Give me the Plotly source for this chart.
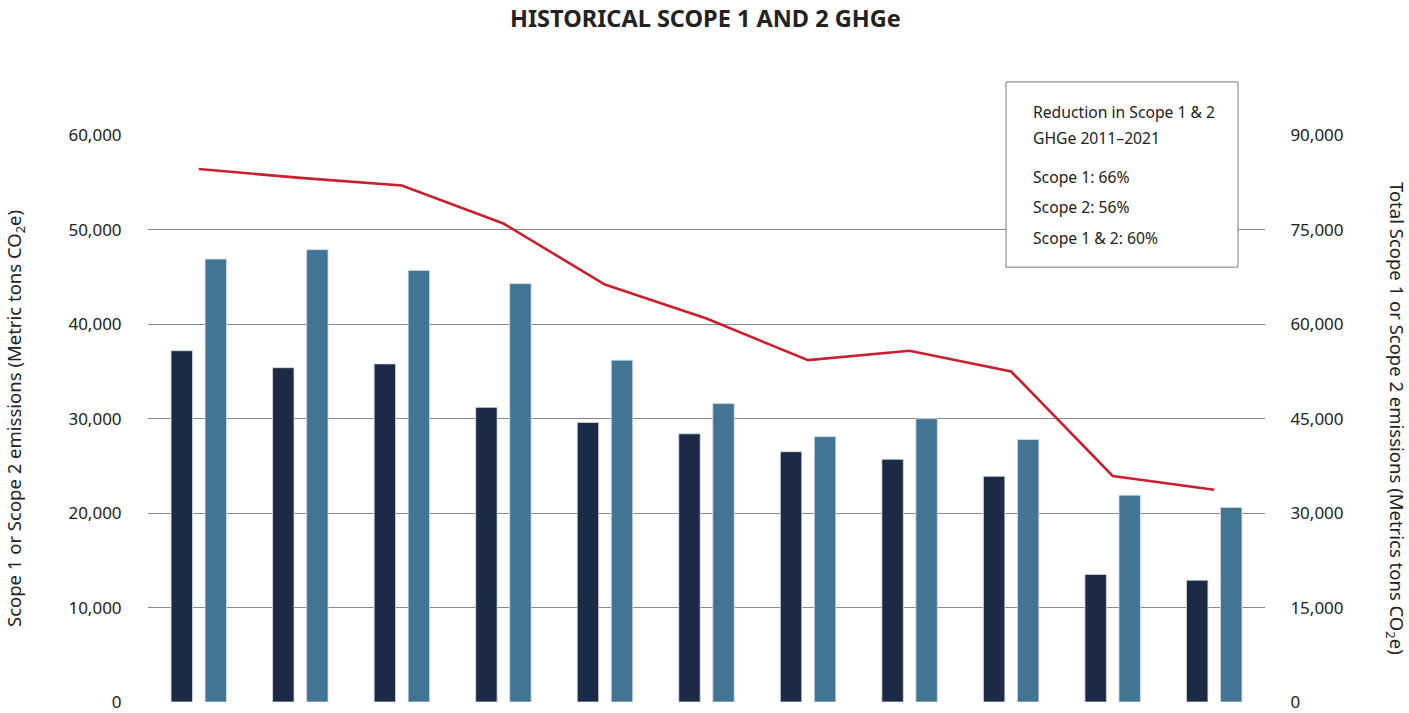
import plotly.graph_objects as go

years = ["2011", "2012", "2013", "2014", "2015", "2016", "2017", "2018", "2019", "2020", "2021"]
scope1 = [37200, 35400, 35800, 31200, 29600, 28400, 26500, 25700, 23900, 13500, 12900]
scope2 = [46900, 47900, 45700, 44300, 36200, 31600, 28100, 30000, 27800, 21900, 20600]
total = [84650, 83250, 82050, 76000, 66300, 60900, 54300, 55800, 52500, 35900, 33700]

left_ticks = [0, 10000, 20000, 30000, 40000, 50000, 60000]
right_ticks = [0, 15000, 30000, 45000, 60000, 75000, 90000]

box_lines = [
    ("Reduction in Scope 1 & 2", 1.0406),
    ("GHGe 2011\u20132021", 0.9947),
    ("Scope 1: 66%", 0.9259),
    ("Scope 2: 56%", 0.8729),
    ("Scope 1 & 2: 60%", 0.8182),
]

FONT = "Noto Sans"
TXT = "#222222"

fig = go.Figure()
fig.add_trace(go.Bar(x=years, y=scope1, name="Scope 1", marker_color="#1c2b45",
                     marker_line=dict(color="#d5dde6", width=0.8)))
fig.add_trace(go.Bar(x=years, y=scope2, name="Scope 2", marker_color="#427594",
                     marker_line=dict(color="#d5dde6", width=0.8)))
fig.add_trace(go.Scatter(x=years, y=total, name="Total", mode="lines",
                         line=dict(color="#c8202f", width=2.6), yaxis="y2"))

annotations = [
    dict(text="<b>HISTORICAL SCOPE 1 AND 2 GHGe</b>", xref="paper", yref="paper",
         x=0.4991, y=1.2380, xanchor="center", yanchor="top", showarrow=False,
         font=dict(family=FONT, size=23.5, color=TXT)),
    dict(text="Scope 1 or Scope 2 emissions (Metric tons CO<sub>2</sub>e)",
         xref="paper", yref="paper", x=-0.1195, y=0.5, textangle=-90,
         showarrow=False, font=dict(family=FONT, size=18.5, color=TXT),
         xanchor="center", yanchor="middle"),
    dict(text="Total Scope 1 or Scope 2 emissions (Metrics tons CO<sub>2</sub>e)",
         xref="paper", yref="paper", x=1.1178, y=0.5, textangle=90,
         showarrow=False, font=dict(family=FONT, size=18.5, color=TXT),
         xanchor="center", yanchor="middle"),
]
for txt, yy in box_lines:
    annotations.append(dict(text=txt, xref="paper", yref="paper", x=0.7905, y=yy,
                            xanchor="left", yanchor="middle", showarrow=False,
                            font=dict(family=FONT, size=15.7, color=TXT)))

fig.update_layout(
    width=1409, height=713,
    paper_bgcolor="white", plot_bgcolor="white",
    margin=dict(l=148, r=144, t=135, b=11, pad=0, autoexpand=False),
    showlegend=False,
    barmode="group", bargap=0.33, bargroupgap=0.37,
    font=dict(family=FONT, color=TXT),
    xaxis=dict(type="category", showticklabels=False, showgrid=False, zeroline=False,
               showline=False, ticks="", range=[-0.5, 10.5], automargin=False),
    yaxis=dict(range=[0, 60040], tickvals=left_ticks,
               ticktext=[f"{v:,}" for v in left_ticks], automargin=False,
               showgrid=True, gridcolor="#8a8a8a", gridwidth=1.3, zeroline=False,
               showline=False, ticks="outside", ticklen=22, tickcolor="rgba(0,0,0,0)",
               tickfont=dict(family=FONT, size=17, color=TXT)),
    yaxis2=dict(range=[0, 90060], tickvals=right_ticks,
                ticktext=[f"{v:,}" for v in right_ticks], automargin=False,
                overlaying="y", side="right", showgrid=False, zeroline=False,
                showline=False, ticks="outside", ticklen=21, tickcolor="rgba(0,0,0,0)",
                tickfont=dict(family=FONT, size=17, color=TXT)),
    shapes=[dict(type="rect", xref="paper", yref="paper", x0=0.7681, x1=0.9758,
                 y0=0.767, y1=1.0936, line=dict(color="#777777", width=1),
                 fillcolor="white", layer="above")],
    annotations=annotations,
)

fig.write_html("out.html", config={"displayModeBar": False})

# remove default page margin so the figure sits at the window's top-left corner
with open("out.html", "r", encoding="utf-8") as f:
    html = f.read()
html = html.replace("<head>", "<head><style>html,body{margin:0;padding:0;overflow:hidden;}</style>", 1)
with open("out.html", "w", encoding="utf-8") as f:
    f.write(html)
